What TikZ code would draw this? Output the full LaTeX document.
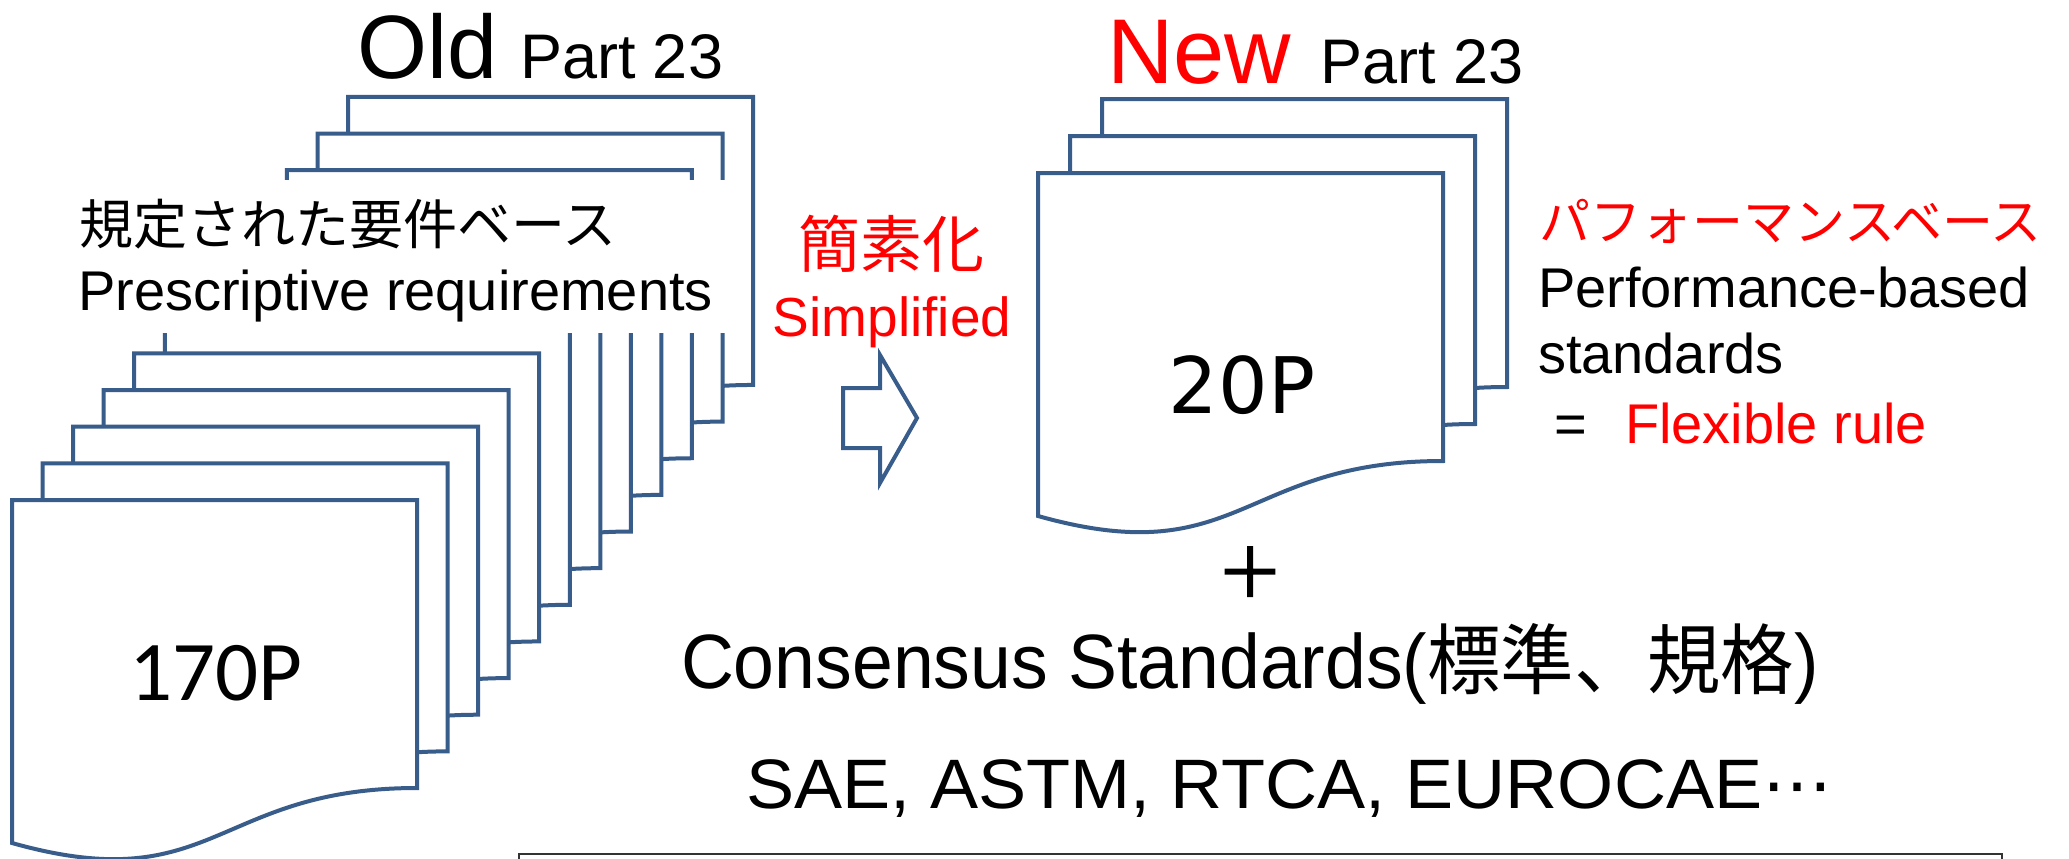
\documentclass[tikz,border=0pt]{standalone}
\usepackage{fontspec}
\setmainfont{Liberation Sans}
\newfontfamily\cjk{Noto Sans CJK JP}
\newfontfamily\cjkbold[FakeBold=2]{Noto Sans CJK JP}
\newfontfamily\calib{Carlito}
\newfontfamily\dvs{DejaVu Sans}
\definecolor{pgblue}{HTML}{385D8A}
\definecolor{myred}{HTML}{FF0000}
\newcommand\fsz[1]{\fontsize{#1}{#1}\selectfont}
\begin{document}
\begin{tikzpicture}[x=1pt,y=-1pt,
  pg/.style={draw=pgblue,line width=4pt,fill=white},
  txt/.style={inner sep=0pt,outer sep=0pt,anchor=base west},
  ctxt/.style={inner sep=0pt,outer sep=0pt,anchor=base},
  redtxt/.style={text=myred}]
\useasboundingbox[fill=white] (0,0) rectangle (2069,859);

% ---- old stack (12 pages) ----
\foreach \i in {11,10,...,0}{
  \pgfmathsetmacro\px{12+30.55*\i}
  \pgfmathsetmacro\py{500-36.64*\i}
  \draw[pg] (\px,\py) -- (\px+405,\py) -- (\px+405,\py+288)
    .. controls (\px+202.5,\py+288) and (\px+202.5,\py+400) .. (\px,\py+343) -- cycle;
}
% white text background
\node[fill=white,inner sep=0pt,minimum width=670pt,minimum height=153pt,anchor=north west] (txtbg) at (70,180) {};
\node[txt,font=\cjk\fsz{54}] (jpold) at (79,244) {規定された要件ベース};
\node[txt,font=\fsz{56}] (presc) at (78,310) {Prescriptive requirements};
\node[ctxt,font=\calib\fsz{85}] (p170) at (216,700) {170P};

% titles
\node[txt,font=\fsz{90}] (old) at (357,78) {Old};
\node[txt,font=\fsz{63}] (oldpart) at (520,78) {Part 23};
\node[txt,font=\fsz{92},redtxt] (new) at (1107,84) {New};
\node[txt,font=\fsz{63}] (newpart) at (1320,84) {Part 23};

% ---- arrow ----
\draw[pg] (843,388) -- (880,388) -- (880,355) -- (917,418) -- (880,483) -- (880,448) -- (843,448) -- cycle;
\node[ctxt,font=\cjk\fsz{62},redtxt] (kanso) at (891,267) {簡素化};
\node[ctxt,font=\fsz{55},redtxt] (simp) at (892,336) {Simplified};

% ---- new stack (3 pages) ----
\foreach \j in {2,1,0}{
  \pgfmathsetmacro\px{1038+32*\j}
  \pgfmathsetmacro\py{173-37*\j}
  \draw[pg] (\px,\py) -- (\px+405,\py) -- (\px+405,\py+288)
    .. controls (\px+202.5,\py+288) and (\px+202.5,\py+400) .. (\px,\py+343) -- cycle;
}
\node[ctxt,font=\dvs\fsz{78}] (p20) at (1242,413) {20P};

% right text block
\node[txt,font=\cjk\fsz{51},redtxt] (perfjp) at (1539,240) {パフォーマンスベース};
\node[txt,font=\fsz{56}] (perf) at (1538,307) {Performance-based};
\node[txt,font=\fsz{56}] (stds) at (1538,373) {standards};
\node[txt,font=\fsz{56}] (eq) at (1554,443) {=};
\node[txt,font=\fsz{56},redtxt] (flex) at (1625,443) {Flexible rule};

% plus and consensus
\node[inner sep=0pt,font=\cjkbold\fsz{68}] (plus) at (1250,572) {＋};
\node[txt,font=\fsz{77}] (cons) at (681,688) {\scalebox{0.953}[1]{Consensus Standards({\cjk 標準、規格})}};
\node[txt,font=\fsz{70}] (sae) at (746,808) {\scalebox{1.03}[1]{SAE, ASTM, RTCA, EUROCAE{\dvs\fsz{68}⋯}}};

% bottom box
\draw[draw=black!80,line width=2pt] (519,854) rectangle (2002,900);
\end{tikzpicture}
\end{document}
